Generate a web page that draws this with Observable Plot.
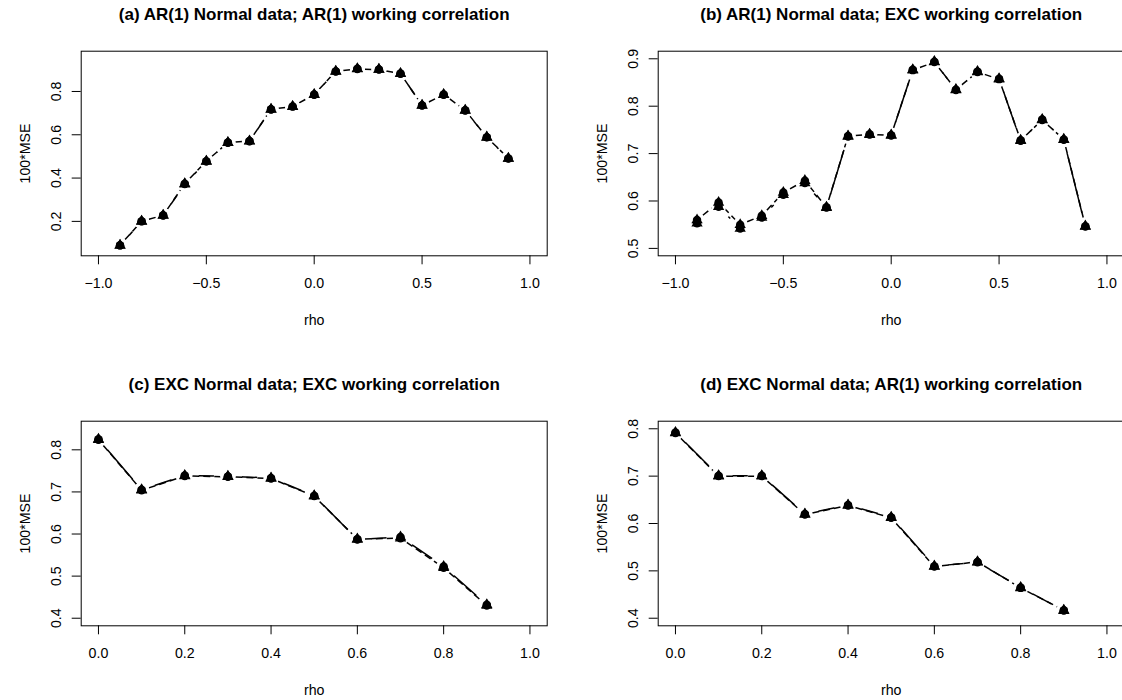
<!DOCTYPE html>
<html><head><meta charset="utf-8">
<script src="https://cdn.jsdelivr.net/npm/d3@7"></script>
<script src="https://cdn.jsdelivr.net/npm/@observablehq/plot@0.6"></script>
<style>
html,body{margin:0;padding:0;background:#fff;}
#wrap{position:relative;width:1122px;height:700px;overflow:hidden;background:#fff;}
.panel{position:absolute;}
</style></head><body><div id="wrap"></div>
<script>
// ---- data ----
const rhoAR  = [-0.9,-0.8,-0.7,-0.6,-0.5,-0.4,-0.3,-0.2,-0.1,0.0,0.1,0.2,0.3,0.4,0.5,0.6,0.7,0.8,0.9];
const rhoEXC = [0.0,0.1,0.2,0.3,0.4,0.5,0.6,0.7,0.8,0.9];

const titleA = "(a) AR(1) Normal data; AR(1) working correlation";
const titleB = "(b) AR(1) Normal data; EXC working correlation";
const titleC = "(c) EXC Normal data; EXC working correlation";
const titleD = "(d) EXC Normal data; AR(1) working correlation";

const aSolid  = [0.089,0.200,0.227,0.372,0.477,0.563,0.570,0.717,0.731,0.785,0.892,0.905,0.902,0.883,0.735,0.785,0.712,0.588,0.490];
const aDashed = [0.090,0.201,0.228,0.374,0.478,0.564,0.571,0.718,0.730,0.786,0.893,0.904,0.901,0.882,0.736,0.786,0.713,0.589,0.491];
const bSolid  = [0.553,0.588,0.542,0.565,0.613,0.638,0.586,0.736,0.741,0.738,0.877,0.894,0.834,0.873,0.858,0.727,0.772,0.729,0.546];
const bDashed = [0.560,0.597,0.550,0.569,0.618,0.643,0.587,0.737,0.740,0.739,0.876,0.893,0.835,0.872,0.857,0.728,0.771,0.730,0.547];
const cSolid  = [0.825,0.705,0.739,0.737,0.733,0.691,0.587,0.593,0.523,0.432];
const cDashed = [0.824,0.704,0.738,0.736,0.732,0.690,0.588,0.590,0.520,0.430];
const dSolid  = [0.792,0.701,0.701,0.620,0.639,0.613,0.510,0.518,0.465,0.416];
const dDashed = [0.791,0.700,0.700,0.619,0.638,0.612,0.509,0.519,0.464,0.417];

const xTicksAR  = [-1.0,-0.5,0.0,0.5,1.0];
const xTicksEXC = [0.0,0.2,0.4,0.6,0.8,1.0];
const yTicksA = [0.2,0.4,0.6,0.8];
const yTicksB = [0.5,0.6,0.7,0.8,0.9];
const yTicksC = [0.4,0.5,0.6,0.7,0.8];
const yTicksD = [0.4,0.5,0.6,0.7,0.8];

const xLabel = "rho";
const yLabel = "100*MSE";

// ---- panels ----
const panels = [
  {left:0,   top:0,   title:titleA, rho:rhoAR,  solid:aSolid, dashed:aDashed, xd:[-1.08,1.08], yd:[0.041,0.986], xt:xTicksAR,  yt:yTicksA},
  {left:577, top:0,   title:titleB, rho:rhoAR,  solid:bSolid, dashed:bDashed, xd:[-1.08,1.08], yd:[0.4844,0.916], xt:xTicksAR,  yt:yTicksB},
  {left:0,   top:370, title:titleC, rho:rhoEXC, solid:cSolid, dashed:cDashed, xd:[-0.04,1.04], yd:[0.382,0.868], xt:xTicksEXC, yt:yTicksC},
  {left:577, top:370, title:titleD, rho:rhoEXC, solid:dSolid, dashed:dDashed, xd:[-0.04,1.04], yd:[0.384,0.816], xt:xTicksEXC, yt:yTicksD}
];

const wrap = document.getElementById("wrap");
const fmt = d3.format(".1f");

for (const p of panels) {
  const S = p.rho.map((r,i)=>({x:r, y:p.solid[i]}));
  const D = p.rho.map((r,i)=>({x:r, y:p.dashed[i]}));
  const segD = D.slice(1).map((d,i)=>({x1:D[i].x, y1:D[i].y, x2:d.x, y2:d.y}));
  const all = S.concat(D);
  const chart = Plot.plot({
    width: 561, height: 350,
    marginLeft: 80.7, marginRight: 14.3, marginTop: 50.7, marginBottom: 94.7,
    x: {domain: p.xd, type: "linear"},
    y: {domain: p.yd, type: "linear"},
    style: {fontFamily: "'Liberation Sans', Arial, sans-serif", fontSize: "14.2px", background: "transparent", color: "black", overflow: "visible"},
    marks: [
      Plot.line(S, {x:"x", y:"y", stroke:"black", strokeWidth:1.5}),
      Plot.dot(S, {x:"x", y:"y", r:14, fill:"white", stroke:"none"}),
      Plot.link(segD, {x1:"x1", y1:"y1", x2:"x2", y2:"y2", stroke:"black", strokeWidth:1.5, strokeDasharray:"7,4", strokeDashoffset:3.5}),
      Plot.dot(all, {x:"x", y:"y", r:7.5, fill:"white", stroke:"none"}),
      Plot.dot(all, {x:"x", y:"y", r:4.2, fill:"black", stroke:"none", symbol:"circle"}),
      Plot.dot(all, {x:"x", y:"y", r:4.2, fill:"black", stroke:"none", symbol:"triangle"}),
      Plot.frame({stroke:"black", strokeWidth:1}),
      Plot.axisX(p.xt, {tickSize:9, tickPadding:13.4, tickFormat: fmt, label:null, stroke:"black"}),
      Plot.axisY(p.yt, {tickSize:9, tickPadding:11.5, tickRotate:-90, tickFormat: fmt, label:null, stroke:"black"}),
      Plot.text([p.title], {frameAnchor:"top", dy:-36.3, lineAnchor:"middle", text:d=>d, fontWeight:"bold", fontSize:17}),
      Plot.text([xLabel], {frameAnchor:"bottom", dy:64.5, lineAnchor:"middle", text:d=>d}),
      Plot.text([yLabel], {frameAnchor:"left", dx:-56, rotate:-90, lineAnchor:"middle", textAnchor:"middle", text:d=>d})
    ]
  });
  chart.classList.add("panel");
  chart.style.left = p.left + "px";
  chart.style.top = p.top + "px";
  chart.style.maxWidth = "none";
  wrap.appendChild(chart);
}
</script>
</body></html>
